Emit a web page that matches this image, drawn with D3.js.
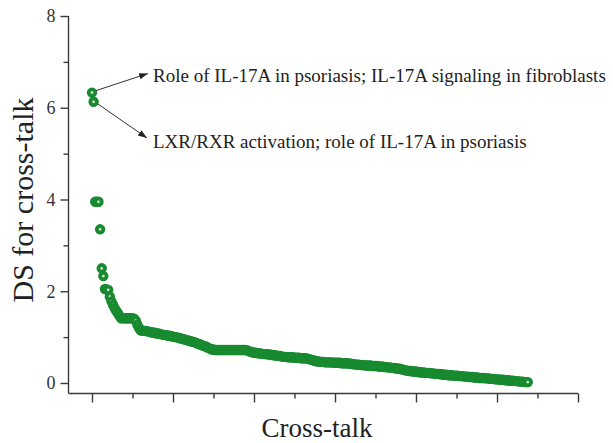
<!DOCTYPE html>
<html><head><meta charset="utf-8">
<script src="https://cdn.jsdelivr.net/npm/d3@7"></script>
<style>body{margin:0;background:#fff}svg{display:block}</style>
</head><body>
<script>
// Data (DS for each cross-talk, sorted descending)
const dsValues = [
6.33,6.13,3.95,3.95,3.95,3.35,2.50,2.33,2.05,2.04,
2.03,1.88,1.78,1.70,1.63,1.57,1.52,1.46,1.41,1.41,
1.41,1.41,1.41,1.41,1.41,1.41,1.40,1.36,1.27,1.20,
1.15,1.14,1.14,1.13,1.13,1.12,1.11,1.10,1.10,1.09,
1.08,1.08,1.07,1.06,1.05,1.05,1.04,1.03,1.03,1.02,
1.01,1.00,1.00,0.99,0.98,0.97,0.96,0.95,0.94,0.93,
0.92,0.91,0.90,0.89,0.88,0.86,0.85,0.84,0.82,0.81,
0.80,0.78,0.76,0.75,0.73,0.73,0.72,0.72,0.72,0.72,
0.72,0.72,0.72,0.72,0.72,0.72,0.72,0.72,0.72,0.72,
0.72,0.72,0.72,0.72,0.72,0.72,0.71,0.69,0.68,0.67,
0.66,0.66,0.65,0.65,0.64,0.64,0.63,0.63,0.63,0.62,
0.62,0.61,0.61,0.60,0.60,0.59,0.59,0.58,0.57,0.57,
0.57,0.56,0.56,0.56,0.56,0.55,0.55,0.55,0.55,0.54,
0.54,0.54,0.54,0.53,0.52,0.51,0.50,0.49,0.48,0.47,
0.47,0.46,0.46,0.46,0.45,0.45,0.45,0.45,0.45,0.44,
0.44,0.44,0.44,0.44,0.43,0.43,0.43,0.43,0.43,0.42,
0.42,0.41,0.41,0.40,0.40,0.40,0.39,0.39,0.39,0.38,
0.38,0.38,0.38,0.37,0.37,0.37,0.37,0.36,0.36,0.36,
0.35,0.35,0.34,0.34,0.34,0.33,0.33,0.32,0.32,0.31,
0.31,0.30,0.29,0.28,0.27,0.27,0.26,0.26,0.25,0.25,
0.25,0.24,0.24,0.23,0.23,0.23,0.22,0.22,0.22,0.21,
0.21,0.21,0.20,0.20,0.20,0.19,0.19,0.18,0.18,0.18,
0.17,0.17,0.17,0.16,0.16,0.16,0.16,0.15,0.15,0.15,
0.14,0.14,0.14,0.13,0.13,0.13,0.12,0.12,0.12,0.11,
0.11,0.11,0.11,0.10,0.10,0.10,0.09,0.09,0.09,0.08,
0.08,0.08,0.07,0.07,0.07,0.06,0.06,0.06,0.05,0.05,
0.05,0.04,0.04,0.04,0.03,0.03,0.03,0.02,0.02,0.02
];
const yTicksMajor = [0, 2, 4, 6, 8];
const yTicksMinor = [1, 3, 5, 7];
const xTicksMajor = [0, 50, 100, 150, 200, 250, 300];
const xTicksMinor = [25, 75, 125, 175, 225, 275];
const yLabel = "DS for cross-talk";
const xLabel = "Cross-talk";
const annotations = [
  {text: "Role of IL-17A in psoriasis; IL-17A signaling in fibroblasts", idx: 0},
  {text: "LXR/RXR activation; role of IL-17A in psoriasis", idx: 1}
];

const W = 613, H = 443;
const axisColor = "#3a3a3a";
const font = "'Liberation Serif','Times New Roman',serif";

const svg = d3.select("body").append("svg").attr("width", W).attr("height", H);
const defs = svg.append("defs");
defs.append("marker").attr("id","arr").attr("viewBox","0 0 10 10")
  .attr("refX",10).attr("refY",5).attr("markerWidth",9).attr("markerHeight",9)
  .attr("orient","auto").attr("markerUnits","userSpaceOnUse")
  .append("path").attr("d","M0,1.5 L10,5 L0,8.5 Z").attr("fill","#222");

const x = d3.scaleLinear().domain([0, 300]).range([92, 578]);
const y = d3.scaleLinear().domain([0, 8]).range([383, 16]);
const axisX0 = 68.5, axisY0 = 393.5;

// axis lines
svg.append("line").attr("x1",axisX0).attr("x2",axisX0).attr("y1",y(8)).attr("y2",axisY0)
  .attr("stroke",axisColor).attr("stroke-width",1.4);
svg.append("line").attr("x1",axisX0).attr("x2",x(300)).attr("y1",axisY0).attr("y2",axisY0)
  .attr("stroke",axisColor).attr("stroke-width",1.4);

// y axis ticks
const gy = svg.append("g").attr("transform",`translate(${axisX0},0)`)
  .call(d3.axisLeft(y).tickValues(yTicksMajor).tickSize(8).tickPadding(5).tickFormat(d3.format("d")));
const gy2 = svg.append("g").attr("transform",`translate(${axisX0},0)`)
  .call(d3.axisLeft(y).tickValues(yTicksMinor).tickSize(5).tickFormat(""));
// x axis ticks
const gx = svg.append("g").attr("transform",`translate(0,${axisY0})`)
  .call(d3.axisBottom(x).tickValues(xTicksMajor).tickSize(9).tickFormat(""));
const gx2 = svg.append("g").attr("transform",`translate(0,${axisY0})`)
  .call(d3.axisBottom(x).tickValues(xTicksMinor).tickSize(5).tickFormat(""));
[gy,gy2,gx,gx2].forEach(g=>{
  g.select(".domain").remove();
  g.selectAll(".tick line").attr("stroke",axisColor).attr("stroke-width",1.4);
  g.selectAll(".tick text").attr("fill","#333").style("font-family",font).style("font-size","18px");
});

// points
svg.append("g").selectAll("circle").data(dsValues).join("circle")
  .attr("cx",(d,i)=>x(i)).attr("cy",d=>y(d)).attr("r",3.3)
  .attr("fill","#cfe8d2").attr("stroke","#188a2f").attr("stroke-width",3.8);

// labels
svg.append("text").attr("transform",`translate(33,200) rotate(-90)`)
  .attr("text-anchor","middle").style("font-family",font).style("font-size","30px")
  .attr("fill","#222").text(yLabel);
svg.append("text").attr("x",317).attr("y",437).attr("text-anchor","middle")
  .style("font-family",font).style("font-size","27px").attr("fill","#222").text(xLabel);

// annotations
const annY = [81.5, 148];
const tips = [[148,73.5],[147,138]];
annotations.forEach((a,k)=>{
  const px = x(a.idx), py = y(dsValues[a.idx]);
  svg.append("line").attr("x1",px+4).attr("y1",py + (k===0?-2:2))
    .attr("x2",tips[k][0]).attr("y2",tips[k][1])
    .attr("stroke","#333").attr("stroke-width",1).attr("marker-end","url(#arr)");
  svg.append("text").attr("x",153).attr("y",annY[k])
    .style("font-family",font).style("font-size","19px").attr("fill","#222").text(a.text);
});
</script>
</body></html>
